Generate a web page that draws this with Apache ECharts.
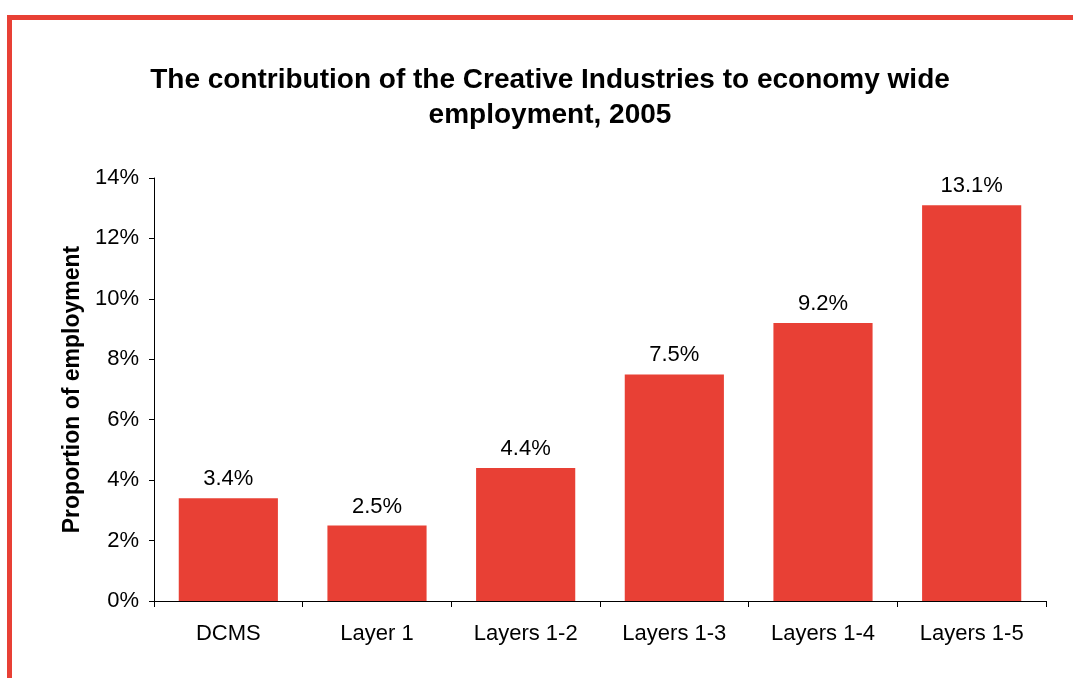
<!DOCTYPE html>
<html>
<head>
<meta charset="utf-8">
<script src="https://cdn.jsdelivr.net/npm/echarts@6/dist/echarts.min.js"></script>
<style>
  html, body { margin: 0; padding: 0; background: #fff; }
  #chart { width: 1073px; height: 678px; }
</style>
</head>
<body>
<div id="chart"></div>
<script>
// Share of economy-wide employment by creative-industry definition, 2005
const categories = ['DCMS', 'Layer 1', 'Layers 1-2', 'Layers 1-3', 'Layers 1-4', 'Layers 1-5'];
const employmentShare = [3.4, 2.5, 4.4, 7.5, 9.2, 13.1];

const RED = '#E84035';
const FONT = 'Liberation Sans, Arial, sans-serif';

const chart = echarts.init(document.getElementById('chart'), null, { renderer: 'canvas' });

chart.setOption({
  animation: false,
  backgroundColor: '#ffffff',
  title: {
    text: 'The contribution of the Creative Industries to economy wide\nemployment, 2005',
    left: 545,
    textAlign: 'center',
    top: 58,
    textStyle: {
      fontFamily: FONT,
      fontWeight: 'bold',
      fontSize: 28,
      color: '#000',
      lineHeight: 35
    }
  },
  graphic: [
    { type: 'rect', shape: { x: 7, y: 15, width: 1066, height: 5 }, style: { fill: RED } },
    { type: 'rect', shape: { x: 7, y: 15, width: 5, height: 663 }, style: { fill: RED } }
  ],
  grid: { left: 154, right: 27, top: 178, bottom: 77 },
  xAxis: {
    type: 'category',
    data: categories,
    boundaryGap: true,
    axisLine: { lineStyle: { color: '#000', width: 1 } },
    axisTick: { show: true, length: 6, alignWithLabel: false, lineStyle: { color: '#000' } },
    axisLabel: { color: '#000', fontFamily: FONT, fontSize: 22, margin: 22 }
  },
  yAxis: {
    type: 'value',
    min: 0,
    max: 14,
    interval: 2,
    name: 'Proportion of employment',
    nameLocation: 'middle',
    nameGap: 67,
    nameRotate: 90,
    nameTextStyle: { fontFamily: FONT, fontWeight: 'bold', fontSize: 23, color: '#000' },
    axisLine: { show: true, lineStyle: { color: '#000', width: 1 } },
    axisTick: { show: true, inside: false, length: 5, lineStyle: { color: '#000' } },
    splitLine: { show: false },
    axisLabel: {
      color: '#000',
      fontFamily: FONT,
      fontSize: 22,
      margin: 15,
      formatter: v => v + '%'
    }
  },
  series: [{
    type: 'bar',
    data: employmentShare,
    barCategoryGap: '33.3%',
    itemStyle: { color: RED },
    label: {
      show: true,
      position: 'top',
      distance: 8,
      color: '#000',
      fontFamily: FONT,
      fontSize: 22,
      formatter: p => p.value.toFixed(1) + '%'
    }
  }]
});
</script>
</body>
</html>
